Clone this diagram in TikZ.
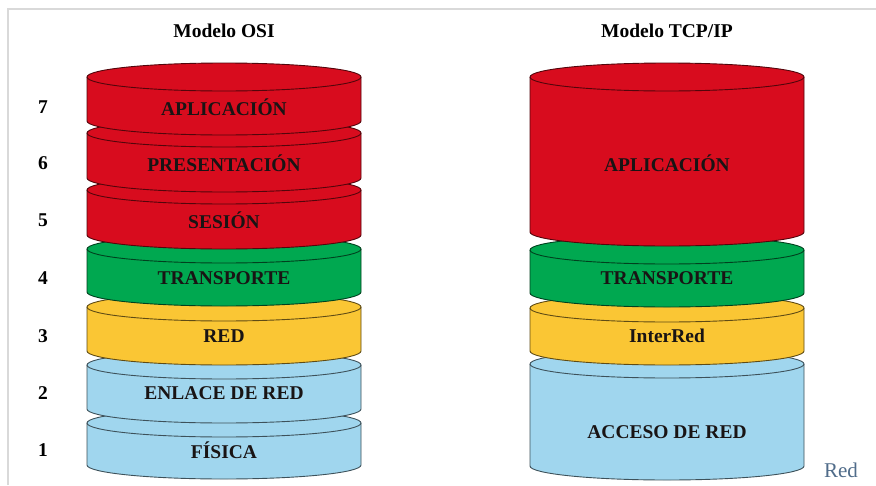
\documentclass[tikz,border=0pt]{standalone}
\usepackage{fontspec}
\setmainfont{Liberation Serif}

\definecolor{layerred}{RGB}{216,12,30}
\definecolor{layergreen}{RGB}{0,168,80}
\definecolor{layeryellow}{RGB}{250,198,52}
\definecolor{layerblue}{RGB}{160,214,238}
\definecolor{framegray}{RGB}{217,217,217}
\definecolor{notecolor}{RGB}{80,108,138}
\definecolor{inkdark}{RGB}{25,20,20}

% one layer of a stack: centre x, half width, top of side, bottom of side, colour
\newcommand{\stackdisc}[5]{%
  \filldraw[discline, fill=#5, draw=#5!38!black]
    ({#1-#2},#3) -- ({#1-#2},#4)
    arc[start angle=180, end angle=360, x radius=#2pt, y radius=\discry]
    -- ({#1+#2},#3)
    arc[start angle=0, end angle=180, x radius=#2pt, y radius=\discry] -- cycle;
  \draw[discline, draw=#5!38!black] ({#1-#2},#3)
    arc[start angle=180, end angle=360, x radius=#2pt, y radius=\discry];
}
\newcommand{\discry}{14pt}

\begin{document}
\begin{tikzpicture}[x=1pt, y=-1pt,
  discline/.style={line width=0.9pt, line join=round},
  lbl/.style={font=\fontsize{19.5}{22}\selectfont\bfseries, text=inkdark, inner sep=0pt},
  title/.style={font=\fontsize{19.5}{22}\selectfont\bfseries, text=black, inner sep=0pt},
  num/.style={font=\fontsize{19.5}{22}\selectfont\bfseries, text=black, inner sep=0pt},
  note/.style={font=\fontsize{21}{24}\selectfont, text=notecolor, inner sep=0pt}]
  \useasboundingbox (0,0) rectangle (876,485);
  \fill[white] (0,0) rectangle (876,485);

  % thin frame along the top and the left
  \draw[framegray, line width=1.6pt] (8,485) -- (8,9) -- (876,9);

  % titles
  \node[title] (tosi) at (224,31) {Modelo OSI};
  \node[title] (ttcp) at (667,31) {Modelo TCP/IP};

  % OSI stack, drawn bottom-up so each layer overlaps the one below
  \stackdisc{224}{137}{423}{465}{layerblue}
  \stackdisc{224}{137}{365}{409}{layerblue}
  \stackdisc{224}{137}{307}{351}{layeryellow}
  \stackdisc{224}{137}{249}{292}{layergreen}
  \stackdisc{224}{137}{190}{235}{layerred}
  \stackdisc{224}{137}{133}{178}{layerred}
  \stackdisc{224}{137}{77}{121}{layerred}

  \node[lbl] (osi7) at (224,107) {APLICACIÓN};
  \node[lbl] (osi6) at (224,163) {PRESENTACIÓN};
  \node[lbl] (osi5) at (224,220) {SESIÓN};
  \node[lbl] (osi4) at (224,278) {TRANSPORTE};
  \node[lbl] (osi3) at (224,336) {RED};
  \node[lbl] (osi2) at (224,393) {ENLACE DE RED};
  \node[lbl] (osi1) at (224,450) {FÍSICA};

  % layer numbers
  \node[num] (n7) at (43,107) {7};
  \node[num] (n6) at (43,163) {6};
  \node[num] (n5) at (43,220) {5};
  \node[num] (n4) at (43,278) {4};
  \node[num] (n3) at (43,336) {3};
  \node[num] (n2) at (43,393) {2};
  \node[num] (n1) at (43,450) {1};

  % TCP/IP stack
  \stackdisc{667}{137}{364}{466}{layerblue}
  \stackdisc{667}{137}{308}{351}{layeryellow}
  \stackdisc{667}{137}{250}{293}{layergreen}
  \stackdisc{667}{137}{77}{232}{layerred}

  \node[lbl] (tcp4) at (667,163) {APLICACIÓN};
  \node[lbl] (tcp3) at (667,278) {TRANSPORTE};
  \node[lbl] (tcp2) at (667,336) {InterRed};
  \node[lbl] (tcp1) at (667,432) {ACCESO DE RED};

  \node[note] (red) at (841,470) {Red};
\end{tikzpicture}
\end{document}
